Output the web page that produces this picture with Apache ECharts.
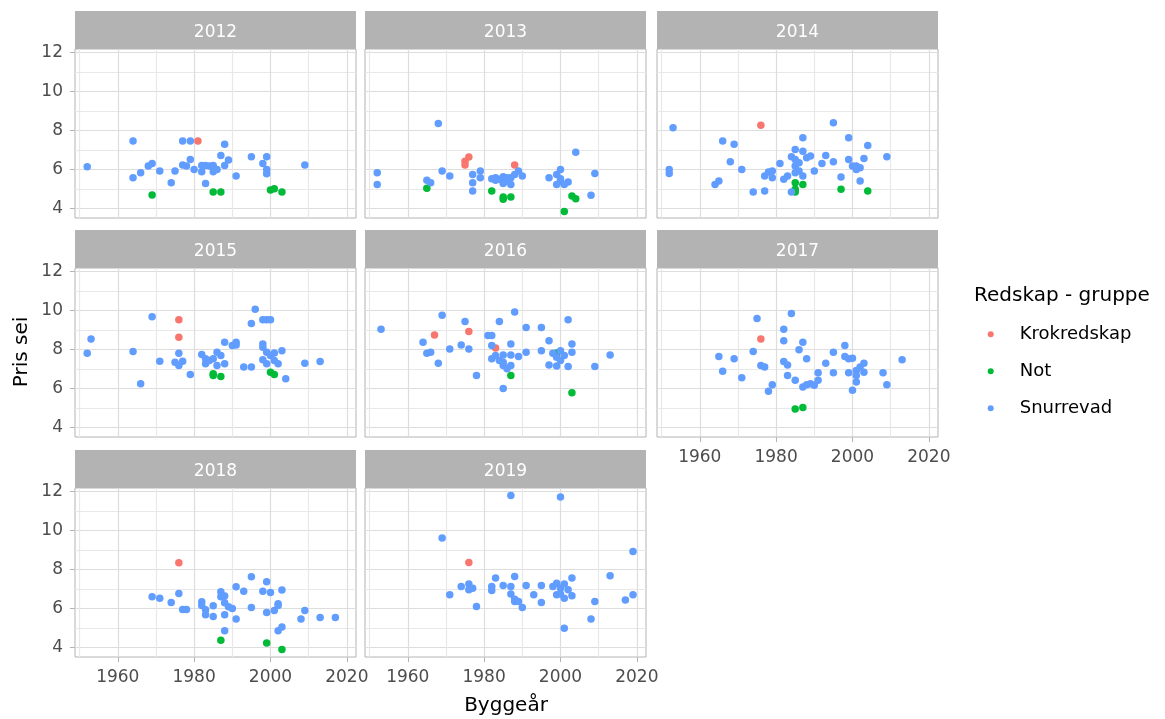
<!DOCTYPE html>
<html>
<head>
<meta charset="utf-8">
<title>Pris sei etter byggeår</title>
<script src="https://cdn.jsdelivr.net/npm/echarts@6/dist/echarts.min.js"></script>
<style>
  html, body { margin: 0; padding: 0; background: #ffffff; }
  #chart { width: 1165px; height: 719px; }
</style>
</head>
<body>
<div id="chart"></div>
<script>
// ---- Data: [byggeår, pris sei] per year and gear group ----
const years = ['2012', '2013', '2014', '2015', '2016', '2017', '2018', '2019'];
const groups = ['Krokredskap', 'Not', 'Snurrevad'];
const groupColors = ['#F8766D', '#00BA38', '#619CFF'];

const xMajorTicks = [1960, 1980, 2000, 2020];
const xMinorTicks = [1950, 1970, 1990, 2010];
const yMajorTicks = [4, 6, 8, 10, 12];
const yMinorTicks = [5, 7, 9, 11];

const krok2012 = [[1981, 7.46]];
const not2012 = [[1969, 4.70], [1985, 4.85], [1987, 4.85], [2000, 4.95], [2001, 5.02], [2003, 4.85]];
const snurre2012 = [[1952, 6.14], [1964, 7.46], [1977, 7.46], [1979, 7.46], [1988, 7.29], [1987, 6.72], [1995, 6.66],
  [1999, 6.66], [1998, 6.31], [1999, 6.00], [1999, 5.79], [2009, 6.23], [1989, 6.49], [1979, 6.52], [1977, 6.23],
  [1978, 6.18], [1980, 6.00], [1982, 6.21], [1983, 6.21], [1982, 5.89], [1984, 6.18], [1985, 6.21], [1985, 5.89],
  [1986, 6.00], [1988, 6.21], [1969, 6.31], [1968, 6.18], [1971, 5.92], [1966, 5.84], [1964, 5.58], [1975, 5.92],
  [1974, 5.33], [1983, 5.28], [1991, 5.67]];

const krok2013 = [[1976, 6.64], [1975, 6.43], [1975, 6.23], [1988, 6.23]];
const not2013 = [[1965, 5.04], [1982, 4.90], [1985, 4.48], [1985, 4.60], [1987, 4.60], [2003, 4.65], [2004, 4.51], [2001, 3.85]];
const snurre2013 = [[1952, 5.84], [1952, 5.24], [1968, 8.36], [1965, 5.45], [1966, 5.33], [1969, 5.92], [1971, 5.67],
  [1977, 5.75], [1977, 5.33], [1977, 4.90], [1979, 5.92], [1979, 5.58], [1982, 5.53], [1983, 5.58], [1984, 5.50],
  [1985, 5.63], [1986, 5.41], [1987, 5.24], [1987, 5.58], [1988, 5.75], [1989, 5.92], [1990, 5.67], [1985, 5.29],
  [1983, 5.45], [1986, 5.58], [1997, 5.58], [2000, 6.00], [1999, 5.75], [1999, 5.24], [2000, 5.41], [2002, 5.36],
  [2000, 5.53], [2001, 5.24], [2004, 6.89], [2009, 5.80], [2008, 4.68]];

const krok2014 = [[1976, 8.27]];
const not2014 = [[1985, 5.33], [1985, 4.99], [1985, 4.85], [1987, 5.24], [1997, 4.99], [2004, 4.90]];
const snurre2014 = [[1953, 8.14], [1952, 6.00], [1952, 5.80], [1966, 7.46], [1969, 7.29], [1968, 6.40], [1971, 6.00],
  [1964, 5.24], [1965, 5.41], [1974, 4.85], [1977, 4.90], [1977, 5.67], [1978, 5.87], [1979, 5.92], [1979, 5.58],
  [1981, 6.31], [1982, 5.50], [1983, 5.67], [1984, 6.66], [1984, 4.85], [1985, 7.03], [1985, 6.52], [1985, 6.18],
  [1986, 6.35], [1987, 7.63], [1987, 6.94], [1988, 6.60], [1989, 6.69], [1986, 5.92], [1987, 5.67], [1985, 5.84],
  [1990, 5.92], [1992, 6.31], [1993, 6.72], [1995, 8.39], [1995, 6.40], [1997, 5.62], [1999, 7.63], [1999, 6.52],
  [2000, 6.18], [2001, 6.00], [2001, 6.18], [2002, 6.09], [2003, 6.57], [2004, 7.23], [2002, 5.41], [2009, 6.66]];

const krok2015 = [[1976, 9.52], [1976, 8.62]];
const not2015 = [[1985, 6.76], [1985, 6.67], [1987, 6.62], [2000, 6.84], [2001, 6.72]];
const snurre2015 = [[1953, 8.53], [1952, 7.81], [1964, 7.89], [1966, 6.25], [1969, 9.67], [1971, 7.40], [1976, 7.81],
  [1975, 7.35], [1976, 7.18], [1977, 7.40], [1979, 6.72], [1982, 7.74], [1983, 7.27], [1983, 7.52], [1984, 7.43],
  [1985, 7.52], [1986, 7.18], [1986, 7.86], [1987, 7.69], [1988, 8.37], [1988, 7.27], [1990, 8.20], [1991, 8.37],
  [1991, 8.23], [1993, 7.10], [1995, 7.10], [1995, 9.33], [1996, 10.06], [1998, 9.52], [1999, 9.52], [2000, 9.52],
  [1998, 8.28], [1998, 8.11], [1999, 7.86], [1998, 7.47], [1999, 7.27], [2000, 7.69], [2001, 7.43], [2001, 7.82],
  [2002, 7.27], [2003, 7.94], [2004, 6.50], [2009, 7.30], [2013, 7.38]];

const krok2016 = [[1967, 8.74], [1976, 8.92], [1983, 8.08]];
const not2016 = [[1987, 6.67], [1999, 7.82], [2003, 5.78]];
const snurre2016 = [[1953, 9.04], [1969, 9.75], [1964, 8.37], [1965, 7.81], [1966, 7.86], [1968, 7.30], [1971, 8.03],
  [1974, 8.23], [1976, 8.03], [1975, 9.43], [1978, 6.67], [1981, 8.71], [1982, 8.71], [1982, 8.20], [1984, 9.43],
  [1982, 7.52], [1983, 7.69], [1984, 7.43], [1985, 7.72], [1985, 7.18], [1985, 7.35], [1987, 8.28], [1987, 7.72],
  [1986, 7.01], [1987, 7.18], [1988, 9.92], [1989, 7.64], [1985, 6.00], [1991, 9.13], [1991, 7.86], [1995, 9.13],
  [1995, 7.94], [1997, 8.45], [1998, 7.81], [1999, 7.60], [2000, 7.94], [2001, 7.69], [1997, 7.21], [1999, 7.15],
  [2002, 7.13], [2000, 7.43], [2002, 9.52], [2003, 8.28], [2003, 7.86], [2009, 7.13], [2013, 7.72]];

const krok2017 = [[1976, 8.53]];
const not2017 = [[1985, 4.95], [1987, 5.03]];
const snurre2017 = [[1965, 7.64], [1966, 6.89], [1969, 7.52], [1971, 6.55], [1974, 7.89], [1975, 9.58], [1976, 7.18],
  [1977, 7.10], [1978, 5.86], [1979, 6.20], [1982, 9.04], [1982, 8.45], [1982, 7.38], [1983, 7.21], [1983, 6.67],
  [1984, 9.84], [1985, 6.42], [1986, 7.98], [1987, 8.37], [1987, 6.08], [1988, 7.52], [1988, 6.20], [1989, 6.25],
  [1990, 6.17], [1991, 6.81], [1991, 6.42], [1993, 7.30], [1995, 7.86], [1995, 6.81], [1998, 8.20], [1998, 7.64],
  [1999, 7.52], [2000, 7.55], [1999, 6.81], [2000, 5.91], [2001, 6.93], [2001, 6.67], [2002, 7.10], [2003, 6.84],
  [2003, 7.30], [2001, 6.33], [2008, 6.81], [2009, 6.20], [2013, 7.48]];

const krok2018 = [[1976, 8.35]];
const not2018 = [[1987, 4.38], [1999, 4.24], [2003, 3.90]];
const snurre2018 = [[1969, 6.60], [1971, 6.53], [1974, 6.31], [1976, 6.77], [1977, 5.95], [1978, 5.95], [1982, 6.35],
  [1982, 6.16], [1983, 5.94], [1983, 5.68], [1985, 6.14], [1985, 5.59], [1987, 6.86], [1987, 6.60], [1988, 6.64],
  [1988, 6.30], [1988, 5.68], [1988, 4.86], [1989, 6.09], [1990, 6.00], [1991, 7.12], [1991, 5.46], [1993, 6.88],
  [1995, 7.63], [1995, 6.05], [1998, 6.88], [1999, 7.37], [1999, 5.80], [2000, 6.82], [2001, 5.90], [2002, 6.16],
  [2002, 6.24], [2003, 6.95], [2002, 4.86], [2003, 5.06], [2008, 5.47], [2009, 5.90], [2013, 5.54], [2017, 5.54]];

const krok2019 = [[1976, 8.36]];
const not2019 = [];
const snurre2019 = [[1987, 11.79], [2000, 11.71], [1969, 9.61], [2019, 8.92], [1971, 6.70], [1974, 7.13], [1976, 7.26],
  [1976, 6.96], [1977, 7.04], [1978, 6.10], [1982, 7.13], [1982, 6.92], [1983, 7.56], [1985, 7.18], [1987, 6.75],
  [1987, 7.13], [1988, 7.64], [1988, 6.36], [1988, 6.48], [1989, 6.36], [1990, 6.05], [1991, 7.18], [1993, 6.70],
  [1995, 7.18], [1995, 6.31], [1998, 7.13], [1999, 7.30], [1999, 6.70], [2000, 7.04], [2000, 6.75], [2001, 7.26],
  [2001, 6.53], [2002, 6.96], [2003, 7.56], [2003, 6.65], [2001, 4.99], [2008, 5.47], [2009, 6.36], [2013, 7.68],
  [2017, 6.44], [2019, 6.70]];

// Lookup: year -> [Krokredskap, Not, Snurrevad]
const panelData = {
  '2012': [krok2012, not2012, snurre2012],
  '2013': [krok2013, not2013, snurre2013],
  '2014': [krok2014, not2014, snurre2014],
  '2015': [krok2015, not2015, snurre2015],
  '2016': [krok2016, not2016, snurre2016],
  '2017': [krok2017, not2017, snurre2017],
  '2018': [krok2018, not2018, snurre2018],
  '2019': [krok2019, not2019, snurre2019]
};

// ---- Layout (facet grid: 3 columns) ----
const FONT = 'DejaVu Sans';
const colLeft = [75, 365, 657];
const rowTop = [49, 268, 488];
const panelW = 281;
const panelH = 169;
const stripH = 38;
const xRange = [1948.8, 2022.4];
const yRange = [3.52, 12.17];

function makeAxis(dim, gridIndex, ticks, isMajor, showLabels) {
  const range = dim === 'x' ? xRange : yRange;
  return {
    type: 'value',
    gridIndex: gridIndex,
    position: dim === 'x' ? (isMajor ? 'bottom' : 'top') : (isMajor ? 'left' : 'right'),
    min: range[0],
    max: range[1],
    axisLine: { show: false },
    axisTick: {
      show: isMajor && showLabels,
      customValues: ticks,
      length: 5,
      lineStyle: { color: '#B3B3B3', width: 1 }
    },
    axisLabel: {
      show: isMajor && showLabels,
      customValues: ticks,
      color: '#4D4D4D',
      fontSize: 17,
      fontFamily: FONT,
      margin: 12,
      formatter: function (v) { return String(v); }
    },
    splitLine: {
      show: true,
      lineStyle: { color: isMajor ? '#DDDDDD' : '#E8E8E8', width: 1.2 }
    },
    minorTick: { show: false },
    minorSplitLine: { show: false }
  };
}

const grids = [];
const xAxes = [];
const yAxes = [];
const series = [];
const graphics = [];

years.forEach(function (yr, i) {
  const r = Math.floor(i / 3);
  const c = i % 3;
  const left = colLeft[c];
  const top = rowTop[r];
  const showX = i + 3 >= years.length;
  const showY = c === 0;

  grids.push({
    left: left, top: top, width: panelW, height: panelH,
    show: true, backgroundColor: '#FFFFFF', borderColor: '#B3B3B3', borderWidth: 1
  });

  // major + minor axes per panel
  xAxes.push(makeAxis('x', i, xMajorTicks, true, showX));
  xAxes.push(makeAxis('x', i, xMinorTicks, false, false));
  yAxes.push(makeAxis('y', i, yMajorTicks, true, showY));
  yAxes.push(makeAxis('y', i, yMinorTicks, false, false));

  groups.forEach(function (g, k) {
    series.push({
      name: g,
      type: 'scatter',
      xAxisIndex: 2 * i,
      yAxisIndex: 2 * i,
      symbol: 'circle',
      symbolSize: 7.5,
      itemStyle: { color: groupColors[k], opacity: 1 },
      emphasis: { disabled: true },
      data: panelData[yr][k]
    });
  });

  // facet strip
  graphics.push({
    type: 'rect',
    shape: { x: left, y: top - stripH, width: panelW, height: stripH },
    style: { fill: '#B3B3B3' },
    silent: true
  });
  graphics.push({
    type: 'text',
    x: left + panelW / 2,
    y: top - stripH + 22,
    style: {
      text: yr, fill: '#FFFFFF', fontSize: 17, fontFamily: FONT,
      align: 'center', verticalAlign: 'middle'
    },
    silent: true
  });
});

// axis titles and legend title
graphics.push({
  type: 'text', x: 22, y: 352, rotation: Math.PI / 2,
  style: { text: 'Pris sei', fill: '#000000', fontSize: 20, fontFamily: FONT, align: 'center', verticalAlign: 'middle' },
  silent: true
});
graphics.push({
  type: 'text', x: 506, y: 706,
  style: { text: 'Byggeår', fill: '#000000', fontSize: 20, fontFamily: FONT, align: 'center', verticalAlign: 'middle' },
  silent: true
});
graphics.push({
  type: 'text', x: 974, y: 296,
  style: { text: 'Redskap - gruppe', fill: '#000000', fontSize: 20, fontFamily: FONT, align: 'left', verticalAlign: 'middle' },
  silent: true
});

const chart = echarts.init(document.getElementById('chart'), null, { renderer: 'canvas' });
chart.setOption({
  backgroundColor: '#FFFFFF',
  animation: false,
  textStyle: { fontFamily: FONT },
  grid: grids,
  xAxis: xAxes,
  yAxis: yAxes,
  legend: {
    data: groups,
    orient: 'vertical',
    left: 987.7,
    top: 325.3,
    padding: 0,
    icon: 'circle',
    itemWidth: 6,
    itemHeight: 6,
    itemGap: 19,
    selectedMode: false,
    textStyle: { fontSize: 18, fontFamily: FONT, color: '#000000', padding: [0, 0, 0, 21] }
  },
  graphic: graphics,
  series: series
});
</script>
</body>
</html>
